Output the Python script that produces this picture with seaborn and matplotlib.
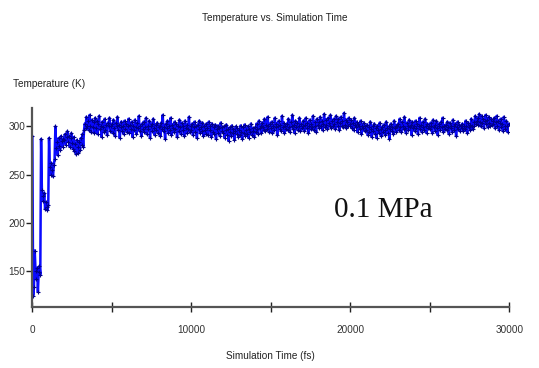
"""
Temperature vs. Simulation Time (0.1 MPa).
"""

import numpy as np
import pandas as pd
import matplotlib
matplotlib.use("Agg")
import matplotlib.pyplot as plt
import seaborn as sns


SAMPLE_STEP_FS = 50

# temperature (K), one row per 1000 fs of simulation (20 samples per row)
TEMPERATURE_ROWS: list[list[int]] = [
    [290, 124, 133, 171, 150, 141, 153, 128, 149, 155, 146, 287, 234, 228, 222, 231, 214, 221, 216, 213],
    [218, 288, 258, 250, 262, 255, 248, 260, 266, 300, 278, 284, 270, 288, 280, 276, 290, 285, 279, 287],
    [286, 292, 281, 289, 295, 284, 290, 279, 288, 293, 283, 277, 289, 274, 282, 271, 286, 279, 272, 284],
    [276, 288, 281, 292, 279, 296, 303, 298, 310, 301, 306, 296, 312, 300, 294, 307, 299, 305, 293, 309],
    [298, 306, 292, 303, 311, 297, 301, 289, 305, 299, 294, 308, 296, 302, 291, 304, 300, 309, 295, 301],
    [303, 293, 307, 298, 290, 304, 300, 310, 296, 302, 288, 299, 305, 295, 301, 292, 306, 297, 303, 294],
    [300, 308, 293, 302, 297, 305, 289, 301, 296, 307, 299, 292, 304, 298, 311, 295, 300, 290, 303, 297],
    [305, 294, 299, 309, 292, 301, 297, 306, 288, 300, 303, 295, 308, 298, 291, 302, 296, 304, 293, 299],
    [301, 290, 304, 297, 312, 295, 299, 287, 303, 298, 306, 293, 300, 296, 309, 291, 302, 298, 294, 305],
    [297, 303, 289, 300, 295, 307, 299, 292, 304, 296, 301, 290, 306, 298, 293, 302, 297, 310, 294, 300],
    [296, 303, 291, 299, 305, 294, 300, 288, 302, 297, 306, 293, 299, 295, 304, 290, 301, 296, 292, 303],
    [298, 291, 305, 296, 300, 289, 303, 294, 299, 292, 302, 287, 297, 301, 293, 298, 290, 304, 295, 299],
    [293, 300, 288, 296, 302, 291, 297, 285, 299, 294, 290, 301, 293, 297, 286, 295, 300, 292, 298, 289],
    [296, 291, 301, 294, 287, 299, 293, 302, 290, 296, 292, 300, 288, 297, 294, 303, 291, 298, 295, 289],
    [299, 294, 303, 297, 292, 306, 298, 301, 293, 304, 299, 296, 308, 295, 302, 297, 310, 300, 294, 303],
    [298, 305, 293, 301, 296, 309, 299, 303, 291, 300, 306, 297, 302, 295, 311, 299, 304, 293, 301, 297],
    [303, 296, 308, 299, 294, 305, 300, 312, 297, 302, 293, 306, 299, 304, 296, 301, 309, 295, 303, 298],
    [300, 306, 295, 302, 309, 298, 304, 293, 301, 307, 297, 303, 299, 311, 296, 305, 300, 294, 308, 302],
    [305, 298, 310, 301, 306, 296, 303, 313, 299, 307, 302, 297, 309, 304, 300, 312, 298, 306, 301, 308],
    [303, 297, 311, 305, 300, 308, 296, 304, 310, 301, 306, 299, 314, 302, 307, 298, 305, 300, 309, 303],
    [301, 307, 298, 304, 296, 309, 302, 299, 305, 294, 303, 300, 297, 306, 292, 301, 298, 304, 295, 300],
    [296, 302, 291, 299, 294, 305, 297, 289, 300, 295, 303, 292, 298, 288, 301, 296, 293, 304, 297, 290],
    [299, 294, 302, 296, 291, 305, 298, 293, 300, 287, 297, 303, 295, 299, 292, 306, 298, 301, 294, 300],
    [303, 296, 308, 299, 294, 305, 301, 297, 310, 298, 293, 304, 300, 296, 307, 299, 302, 291, 305, 298],
    [301, 295, 306, 298, 303, 292, 300, 309, 297, 302, 294, 305, 299, 296, 308, 300, 293, 303, 298, 301],
    [297, 304, 300, 293, 307, 299, 302, 295, 306, 298, 291, 303, 300, 296, 305, 299, 309, 294, 301, 297],
    [302, 296, 305, 299, 292, 304, 298, 301, 294, 307, 300, 296, 303, 290, 299, 305, 297, 302, 295, 300],
    [298, 303, 295, 301, 297, 306, 300, 293, 304, 299, 302, 296, 308, 300, 297, 305, 301, 311, 303, 306],
    [309, 302, 313, 305, 300, 311, 304, 308, 298, 306, 312, 303, 307, 299, 310, 304, 301, 308, 302, 306],
    [303, 309, 298, 305, 311, 300, 306, 296, 304, 308, 299, 303, 295, 310, 301, 297, 306, 300, 294, 303],
]

X_TICKS: list[int] = [0, 5000, 10000, 15000, 20000, 25000, 30000]
X_TICK_LABELS: list[str] = ["0", "", "10000", "", "20000", "", "30000"]
Y_TICKS: list[int] = [150, 200, 250, 300]

LABEL_FONT = ["Liberation Sans", "DejaVu Sans"]
TEXT_SIZE = 7.2


def build_dataframe() -> pd.DataFrame:
    temperature = [value for row in TEMPERATURE_ROWS for value in row]
    time_fs = np.arange(len(temperature)) * SAMPLE_STEP_FS
    return pd.DataFrame({"Time": time_fs, "Temperature": temperature})


def main() -> None:
    data = build_dataframe()

    sns.set_style("white")
    plt.rcParams["font.family"] = LABEL_FONT

    fig = plt.figure(figsize=(5.39, 3.68), dpi=100)
    ax = fig.add_axes([0.060, 0.165, 0.885, 0.541])

    sns.lineplot(
        data=data, x="Time", y="Temperature", ax=ax,
        color="#0a0aff", linewidth=1.8, marker="+",
        markersize=3, markeredgecolor="#00008b", markeredgewidth=0.8,
    )

    ax.set_xlim(0, 30000)
    ax.set_ylim(112, 319)
    ax.set_xticks(X_TICKS)
    ax.set_xticklabels(X_TICK_LABELS)
    ax.set_yticks(Y_TICKS)
    ax.tick_params(axis="x", bottom=True, direction="inout", length=7,
                   width=1, color="#222222", labelsize=TEXT_SIZE, pad=9,
                   labelcolor="#333333")
    ax.tick_params(axis="y", left=True, direction="out", length=4,
                   width=1, color="#222222", labelsize=TEXT_SIZE, pad=1,
                   labelcolor="#333333")
    ax.set_xlabel("")
    ax.set_ylabel("")

    for side in ["top", "right"]:
        ax.spines[side].set_visible(False)
    for side in ["left", "bottom"]:
        ax.spines[side].set_color("#555555")
        ax.spines[side].set_linewidth(1.6)

    fig.text(0.51, 0.951, "Temperature vs. Simulation Time",
             ha="center", va="center", fontsize=TEXT_SIZE, color="#222222")
    fig.text(0.024, 0.773, "Temperature (K)",
             ha="left", va="center", fontsize=TEXT_SIZE, color="#222222")
    fig.text(0.502, 0.033, "Simulation Time (fs)",
             ha="center", va="center", fontsize=TEXT_SIZE, color="#222222")
    ax.text(0.736, 0.49, "0.1 MPa", transform=ax.transAxes,
            ha="center", va="center", fontsize=21,
            family=["Liberation Serif", "DejaVu Serif"], color="#111111")

    fig.savefig("out.png", dpi=100)


if __name__ == "__main__":
    main()
